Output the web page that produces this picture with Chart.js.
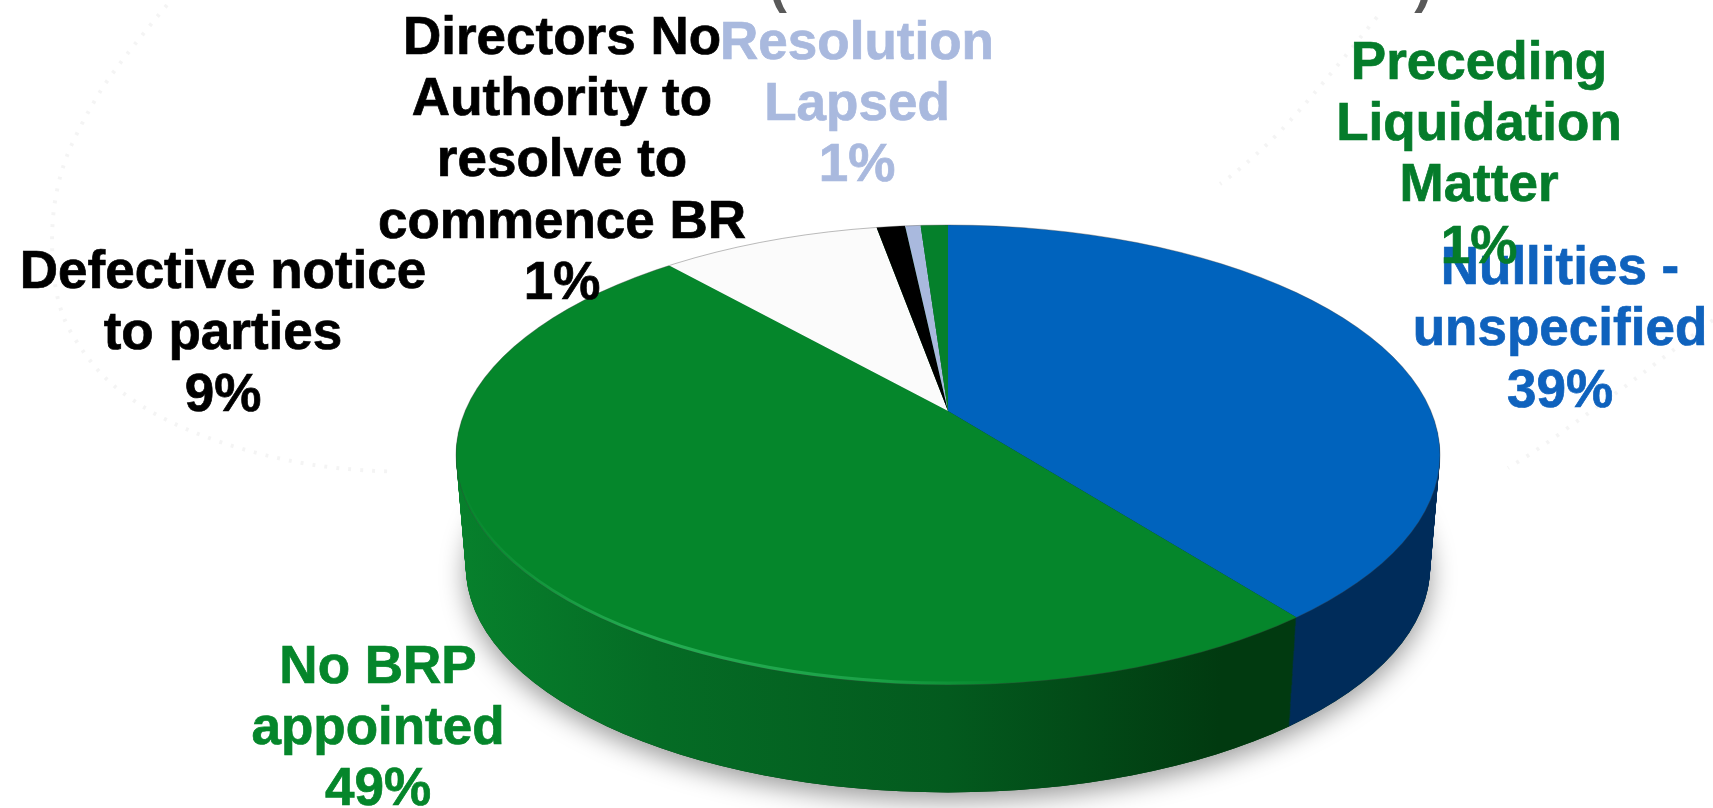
<!DOCTYPE html>
<html>
<head>
<meta charset="utf-8">
<title>Pie</title>
<style>
  html, body { margin: 0; padding: 0; background: #fff; }
  #box { width: 1713px; height: 808px; }
</style>
<script src="https://cdn.jsdelivr.net/npm/chart.js@4/dist/chart.umd.min.js"></script>
</head>
<body>
<div id="box"><canvas id="pie" width="1713" height="808"></canvas></div>
<script>
const categories = ['Nullities - unspecified', 'No BRP appointed', 'Defective notice to parties',
  'Directors No Authority to resolve to commence BR', 'Resolution Lapsed', 'Preceding Liquidation Matter'];
// the three small slices all say 1% but differ a little in the picture
const values = [39, 49, 9, 1.2, 0.65, 1.15];
const faceColors = ['#0063bd', '#05862b', '#fbfbfb', '#000000', '#a9b9de', '#05802b'];
const textColors = ['#0f62bd', '#05862b', '#000000', '#000000', '#a9b9de', '#057c2b'];
const labelLines = [
  ['Nullities -', 'unspecified'],
  ['No BRP', 'appointed'],
  ['Defective notice', 'to parties'],
  ['Directors No', 'Authority to', 'resolve to', 'commence BR'],
  ['Resolution', 'Lapsed'],
  ['Preceding', 'Liquidation', 'Matter']
];

// layout of the tilted pie
const rimX = 948, rimY = 455, rimRx = 492, rimRy = 230;
const squash = 0.49, depth = 112, taper = 0.02;
const labelX = [1560, 378, 223, 562, 857, 1479];
const labelY = [284, 682.5, 288, 53.5, 58.5, 78.5];
const lineGap = 61.4;
const labelFont = 'bold 53px "Liberation Sans", Arial, sans-serif';

// faint dotted swirls behind the chart
const swirls = [
  [[167, 5], [115, 67], [83, 120], [60, 170], [50, 233], [57, 310], [88, 360], [117, 390], [167, 422], [240, 450], [333, 470], [450, 473]],
  [[1377, 17], [1300, 113], [1240, 170], [1200, 198]],
  [[1713, 320], [1660, 360], [1630, 383], [1583, 417], [1533, 453], [1483, 483]]
];

function wallFill(ctx, i) {
  const g = ctx.createLinearGradient(rimX - rimRx, 0, rimX + rimRx, 0);
  if (i === 0) {
    g.addColorStop(0, '#002c5a');
    g.addColorStop(1, '#002c5a');
  } else {
    g.addColorStop(0, '#07802c');
    g.addColorStop(0.2, '#056c25');
    g.addColorStop(0.5, '#035a1e');
    g.addColorStop(0.78, '#013a10');
    g.addColorStop(1, '#013a10');
  }
  return g;
}

// moves the drawing d pixels down the side of the pie, origin on the rim centre
function toLevel(ctx, d) {
  const f = 1 - taper * d / depth;
  ctx.translate(rimX, rimY + d);
  ctx.scale(f, f);
}

function rimPath(ctx) {
  ctx.beginPath();
  ctx.ellipse(0, 0, rimRx, rimRy, 0, 0, Math.PI * 2);
}

const tilted = {
  id: 'tilted',
  beforeDraw(chart) {
    const ctx = chart.ctx;
    ctx.save();
    ctx.strokeStyle = 'rgba(0,0,0,0.045)';
    ctx.lineWidth = 4;
    ctx.setLineDash([3, 9]);
    swirls.forEach(pts => {
      ctx.beginPath();
      ctx.moveTo(pts[0][0], pts[0][1]);
      for (let i = 1; i < pts.length - 1; i++) {
        const mx = (pts[i][0] + pts[i + 1][0]) / 2;
        const my = (pts[i][1] + pts[i + 1][1]) / 2;
        ctx.quadraticCurveTo(pts[i][0], pts[i][1], mx, my);
      }
      ctx.stroke();
    });
    ctx.restore();
  },
  beforeDatasetDraw(chart) {
    const ctx = chart.ctx;
    const arcs = chart.getDatasetMeta(0).data;

    // shadow under the pie
    ctx.save();
    toLevel(ctx, depth);
    ctx.shadowColor = 'rgba(0,0,0,0.4)';
    ctx.shadowBlur = 26;
    ctx.shadowOffsetY = 8;
    ctx.fillStyle = '#013a10';
    rimPath(ctx);
    ctx.fill();
    ctx.restore();

    // side wall, stacked up from the bottom
    for (let d = depth; d > 0; d--) {
      ctx.save();
      toLevel(ctx, d);
      rimPath(ctx);
      ctx.clip();
      ctx.translate(0, arcs[0].y - rimY);
      ctx.scale(1, squash);
      ctx.translate(-arcs[0].x, -arcs[0].y);
      arcs.forEach((arc, i) => {
        const saved = arc.options;
        arc.options = Object.assign(Object.create(saved), { backgroundColor: wallFill(ctx, i) });
        arc.draw(ctx);
        arc.options = saved;
      });
      ctx.restore();
    }

    // top face goes through the normal dataset draw
    ctx.save();
    toLevel(ctx, 0);
    rimPath(ctx);
    ctx.clip();
    ctx.translate(0, arcs[0].y - rimY);
    ctx.scale(1, squash);
    ctx.translate(-arcs[0].x, -arcs[0].y);
  },
  afterDatasetDraw(chart) {
    const ctx = chart.ctx;
    ctx.restore();
    ctx.save();
    toLevel(ctx, 0);
    ctx.strokeStyle = 'rgba(60,60,60,0.35)';
    ctx.lineWidth = 1;
    rimPath(ctx);
    ctx.stroke();
    // light bevel along the front left of the rim
    const g = ctx.createLinearGradient(-rimRx, 0, 60, 0);
    g.addColorStop(0, 'rgba(50,190,100,0)');
    g.addColorStop(0.35, 'rgba(50,190,100,0.7)');
    g.addColorStop(0.75, 'rgba(50,190,100,0.5)');
    g.addColorStop(1, 'rgba(50,190,100,0)');
    ctx.strokeStyle = g;
    ctx.lineWidth = 3;
    ctx.beginPath();
    ctx.ellipse(0, 0, rimRx - 1, rimRy - 2, 0, Math.PI * 0.45, Math.PI * 0.95);
    ctx.stroke();
    ctx.restore();
  },
  afterDraw(chart) {
    const ctx = chart.ctx;
    ctx.save();
    ctx.font = labelFont;
    ctx.textAlign = 'center';
    ctx.textBaseline = 'alphabetic';
    ctx.lineWidth = 0.7;
    categories.forEach((c, i) => {
      const lines = labelLines[i].concat(Math.round(values[i]) + '%');
      ctx.fillStyle = textColors[i];
      ctx.strokeStyle = textColors[i];
      lines.forEach((t, n) => {
        ctx.fillText(t, labelX[i], labelY[i] + n * lineGap);
        ctx.strokeText(t, labelX[i], labelY[i] + n * lineGap);
      });
    });
    // bottom of the cut off heading
    ctx.fillStyle = '#595959';
    ctx.fillText('(', 778, 2);
    ctx.fillText(')', 1423, 2);
    ctx.restore();
  }
};

new Chart(document.getElementById('pie'), {
  type: 'pie',
  data: {
    labels: categories,
    datasets: [{
      data: values,
      backgroundColor: faceColors,
      borderWidth: 0,
      clip: false
    }]
  },
  options: {
    responsive: false,
    animation: false,
    devicePixelRatio: 1,
    radius: 600,
    layout: { padding: { left: 183, top: 14 } },
    plugins: { legend: { display: false }, tooltip: { enabled: false } }
  },
  plugins: [tilted]
});
</script>
</body>
</html>
